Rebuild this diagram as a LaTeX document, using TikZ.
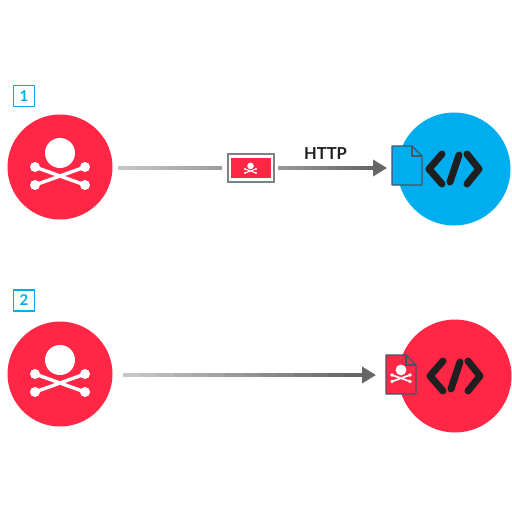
\documentclass[tikz,border=0pt]{standalone}
\usepackage{fontspec}
\setmainfont{Lato}
\usepackage{xcolor}
\usetikzlibrary{arrows.meta, positioning, calc}
\definecolor{hackred}{HTML}{FF2646}
\definecolor{webblue}{HTML}{00ADEF}
\definecolor{inkdark}{HTML}{1F1F1F}
\definecolor{docedge}{HTML}{445566}

\tikzset{
    disc/.style={circle, minimum size=#1, inner sep=0pt},
    stepbox/.style={draw=webblue, line width=1.2pt, text=webblue, minimum size=21pt, inner sep=0pt, font=\fontsize{15}{15}\selectfont\bfseries},
    headwire/.style={line width=3.5pt, black!60, -{Triangle[length=14pt,width=16pt]}},
    pics/skull/.style={code={
        \fill[white] (0,-14) circle (15);
        \draw[white, line width=#1*3.4pt] (-25,18) -- (25,0) (-25,0) -- (25,18);
        \foreach \bx/\by in {-25/0, 25/0, -25/18, 25/18}{
            \fill[white] (\bx,\by) circle (5);
        }
    }},
    pics/codetag/.style={code={
        \draw[inkdark, line width=7pt, line cap=round, line join=round]
            (-12,-15) -- (-25,0) -- (-12,15)
            (5,-14) -- (-4,13)
            (13,-15) -- (25,0) -- (13,15);
    }},
    pics/docpage/.style={code={
        \draw[docedge, line width=1.4pt, fill=#1, line join=round]
            (0,0) -- (20,0) -- (30,10) -- (30,39) -- (0,39) -- cycle;
        \draw[docedge, line width=1.4pt, line join=round] (20,0) -- (20,10) -- (30,10);
    }}
}

% shaft made of short pieces going from one grey to another
\newcommand{\gradwire}[4]{
    \foreach \k in {1,...,14}{
        \pgfmathsetmacro{\pct}{#3+(#4-#3)*(\k-1)/13}
        \pgfmathsetmacro{\ta}{(\k-1)/14}
        \pgfmathsetmacro{\tb}{(\k+0.1)/14}
        \draw[line width=3.5pt, black!\pct] ($(#1)!\ta!(#2)$) -- ($(#1)!\tb!(#2)$);
    }
}

\begin{document}
\begin{tikzpicture}[x=1pt, y=-1pt]
    \useasboundingbox (0,0) rectangle (512,512);

    % Attaquants et numeros
    \foreach \i/\ya/\yb in {1/167/96, 2/374/300.5}{
        \node[disc=105pt, fill=hackred] (attacker\i) at (60,\ya) {};
        \pic at (attacker\i.center) {skull=1};
        \node[stepbox] (num\i) at (24,\yb) {\i};
    }

    % Serveurs
    \node[disc=113pt, fill=webblue] (server1) at (454,169) {};
    \node[disc=113pt, fill=hackred] (server2) at (455,376) {};
    \pic at (server1.center) {codetag};
    \pic at (server2.center) {codetag};

    % Message
    \node[draw=black!50, line width=2pt, minimum width=46pt, minimum height=28pt, inner sep=0pt] (mail) at (250.5,168) {};
    \node[fill=hackred, minimum width=40pt, minimum height=20pt, inner sep=0pt] (mailred) at (mail.center) {};
    \pic[scale=.22] at (250.5,169) {skull=.3};

    % Fichiers
    \pic at (392,146) {docpage=webblue};
    \pic at (386,355) {docpage=hackred};
    \pic[scale=.36] at (401,375) {skull=.5};

    % Connecteurs
    \coordinate (a1) at ([xshift=5.5pt]attacker1.east |- mail.center);
    \coordinate (b1) at ([xshift=-5pt]mail.west);
    \coordinate (a2) at ([xshift=3.5pt]mail.east);
    \coordinate (b2) at (373,168);
    \coordinate (tip2) at (387,168);
    \coordinate (a3) at (123,375);
    \coordinate (b3) at (362,375);
    \coordinate (tip3) at (376,375);

    \gradwire{a1}{b1}{22}{38}
    \gradwire{a2}{b2}{40}{60}
    \gradwire{a3}{b3}{22}{60}
    \draw[headwire] (b2) -- (tip2);
    \draw[headwire] (b3) -- (tip3);

    \node[text=inkdark, font=\fontsize{16.5}{16.5}\selectfont\bfseries] (http) at (325.5,154) {HTTP};
\end{tikzpicture}
\end{document}
